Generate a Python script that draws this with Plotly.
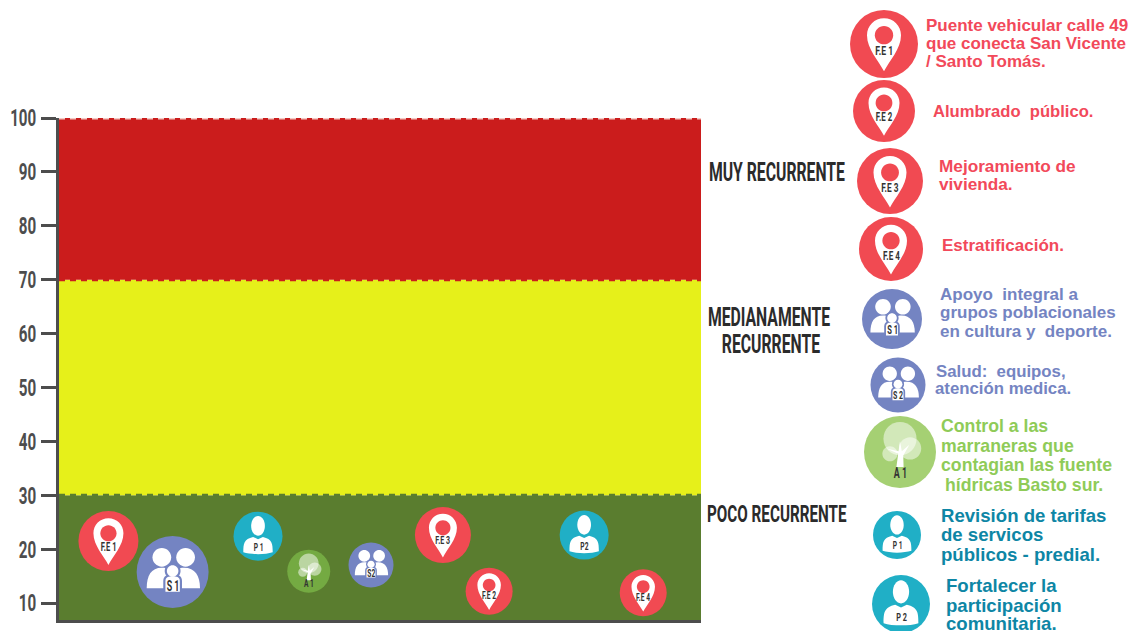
import plotly.graph_objects as go

W, H = 1130, 631
NARROW = "Roboto"
SANS = "Liberation Sans"

# ---------- data ----------
zone_names = ["POCO", "MEDIANAMENTE", "MUY"]
zone_low = [6.85, 30, 70]
zone_high = [30, 70, 100]
zone_colors = ["#5a7d2f", "#e6f01a", "#cb1c1c"]
zone_edge = [100, 70, 30]
zone_edge_colors = ["#f3c9c4", "#cb1c1c", "#5a7d2f"]

tick_values = [10, 20, 30, 40, 50, 60, 70, 80, 90, 100]

bubble_labels = ["F.E 1", "S 1", "P 1", "A 1", "S2", "F.E 3", "F.E 2", "P2", "F.E 4"]
bubble_kinds = ["pin", "people", "person", "tree", "people", "pin", "pin", "person", "pin"]
bubble_x = [7.7, 17.7, 31.0, 38.9, 48.6, 59.8, 67.0, 81.8, 91.0]
bubble_y = [21.5, 15.75, 22.4, 15.9, 17.05, 22.6, 12.2, 22.6, 11.9]
bubble_d = [60, 72, 49, 43, 45, 56, 47, 49, 47]

legend_labels = ["F.E 1", "F.E 2", "F.E 3", "F.E 4", "S 1", "S 2", "A 1", "P 1", "P 2"]
legend_kinds = ["pin", "pin", "pin", "pin", "people", "people", "tree", "person", "person"]
legend_x = [884, 884, 890, 891, 892, 898, 900, 897, 901]
legend_y = [44, 111, 181, 249, 319, 385, 452, 535, 604]
legend_d = [68, 62, 66, 64, 60, 55, 72, 48, 58]

legend_lines = [
    ["Puente vehicular calle 49", "que conecta San Vicente", "/ Santo Tomás."],
    ["Alumbrado  público."],
    ["Mejoramiento de", "vivienda."],
    ["Estratificación."],
    ["Apoyo  integral a", "grupos poblacionales", "en cultura y  deporte."],
    ["Salud:  equipos,", "atención medica."],
    ["Control a las", "marraneras que", "contagian las fuente", "hídricas Basto sur."],
    ["Revisión de tarifas", "de servicos", "públicos - predial."],
    ["Fortalecer la", "participación", "comunitaria."],
]
legend_line_x = [[926, 926, 926], [933], [939, 939], [942], [940, 940, 940], [936, 935],
                 [941, 941, 941, 945], [941, 941, 941], [946, 946, 946]]
legend_line_y = [[25, 43, 61], [111], [166, 184], [245], [294, 312, 331], [371, 388],
                 [426, 446, 465, 485], [515, 534, 554], [585, 605, 623]]
legend_line_size = [17, 16.6, 17.2, 17, 17, 16.8, 17.7, 18.6, 18.6]

zone_labels = ["MUY RECURRENTE", "MEDIANAMENTE", "RECURRENTE", "POCO RECURRENTE"]
zone_label_x = [777, 769, 771, 777]
zone_label_y = [172, 317, 344, 514]
zone_label_size = [25, 25, 25, 24.2]

# ---------- styles ----------
fill = {"pin": "#f14a52", "people": "#7484c2", "person": "#20afc6", "tree": "#74aa42"}
legend_fill = {"pin": "#f14a52", "people": "#7484c2", "person": "#20afc6", "tree": "#a5d073"}
text_color = {"pin": "#f2495a", "people": "#7484c2", "person": "#0e86a5", "tree": "#8fcb58"}
label_drop = {"pin": -0.19, "people": -0.38, "person": -0.45, "tree": -0.58}
AXIS = "#4d4d4d"


def blob(cx, cy, rx, ry=None):
    ry = rx if ry is None else ry
    k = 0.5523
    return (f"M{cx-rx:.2f},{cy:.2f} C{cx-rx:.2f},{cy+k*ry:.2f} {cx-k*rx:.2f},{cy+ry:.2f} {cx:.2f},{cy+ry:.2f} "
            f"C{cx+k*rx:.2f},{cy+ry:.2f} {cx+rx:.2f},{cy+k*ry:.2f} {cx+rx:.2f},{cy:.2f} "
            f"C{cx+rx:.2f},{cy-k*ry:.2f} {cx+k*rx:.2f},{cy-ry:.2f} {cx:.2f},{cy-ry:.2f} "
            f"C{cx-k*rx:.2f},{cy-ry:.2f} {cx-rx:.2f},{cy-k*ry:.2f} {cx-rx:.2f},{cy:.2f} Z")


def pts(r, cmds):
    return " ".join(c[0] + " ".join(f"{x*r:.2f},{y*r:.2f}" for x, y in c[1]) if c[1] else "Z" for c in cmds)


def icon_parts(kind, r, bg):
    if kind == "pin":
        tear = pts(r, [("M", [(0, -.8)]), ("C", [(-.15, -.5), (-.5, -.15), (-.5, .26)]),
                       ("C", [(-.5, .54), (-.28, .76), (0, .76)]), ("C", [(.28, .76), (.5, .54), (.5, .26)]),
                       ("C", [(.5, -.15), (.15, -.5), (0, -.8)]), ("Z", [])])
        return [(tear, "#ffffff", 1), (blob(0, .26 * r, .27 * r), bg, 1)]
    if kind == "people":
        left = pts(r, [("M", [(-.72, -.45)]), ("C", [(-.72, -.1), (-.6, .12), (-.3, .12)]),
                       ("C", [(-.12, .12), (-.05, .05), (0, -.05)]), ("L", [(0, -.45)]), ("Z", [])])
        right = pts(r, [("M", [(.76, -.45)]), ("C", [(.76, -.1), (.62, .12), (.32, .12)]),
                        ("C", [(.14, .12), (.05, .05), (0, -.05)]), ("L", [(0, -.45)]), ("Z", [])])
        child = pts(r, [("M", [(-.26, -.58)]), ("L", [(-.26, -.25)]), ("C", [(-.26, -.1), (-.15, -.07), (0, -.07)]),
                        ("C", [(.15, -.07), (.26, -.1), (.26, -.25)]), ("L", [(.26, -.58)]), ("Z", [])])
        return [(blob(-.3 * r, .41 * r, .26 * r), "#ffffff", 1), (blob(.36 * r, .41 * r, .26 * r), "#ffffff", 1),
                (left, "#ffffff", 1), (right, "#ffffff", 1), (child, bg, 1),
                (blob(0, .03 * r, .22 * r), bg, 1), (blob(0, .03 * r, .16 * r), "#ffffff", 1),
                (pts(r, [("M", [(-.2, -.55)]), ("L", [(-.2, -.25)]), ("C", [(-.2, -.14), (-.1, -.12), (0, -.12)]),
                         ("C", [(.1, -.12), (.2, -.14), (.2, -.25)]), ("L", [(.2, -.55)]), ("Z", [])]), "#ffffff", 1)]
    if kind == "person":
        body = pts(r, [("M", [(-.6, -.66)]), ("C", [(-.6, -.3), (-.58, -.12), (-.2, -.03)]),
                       ("L", [(0, -.12)]), ("L", [(.2, -.03)]), ("C", [(.58, -.12), (.6, -.3), (.6, -.66)]),
                       ("C", [(.3, -.76), (-.3, -.76), (-.6, -.66)]), ("Z", [])])
        return [(blob(0, .42 * r, .28 * r, .4 * r), "#ffffff", 1), (body, "#ffffff", 1)]
    trunk = pts(r, [("M", [(-.1, -.42)]), ("L", [(-.05, -.05)]), ("L", [(-.38, .1)]), ("L", [(-.04, .02)]),
                    ("L", [(0, .3)]), ("L", [(.05, .02)]), ("L", [(.26, .2)]), ("L", [(.09, -.1)]),
                    ("L", [(.1, -.42)]), ("Z", [])])
    return [(blob(0, .37 * r, .46 * r), "#ffffff", .5), (blob(.28 * r, .1 * r, .31 * r), "#ffffff", .5),
            (blob(-.28 * r, -.05 * r, .21 * r), "#ffffff", .5), (trunk, "#ffffff", 1)]


shapes, annotations = [], []

# zones
for lo, hi, col in zip(zone_low, zone_high, zone_colors):
    shapes.append(dict(type="rect", xref="x", yref="y", x0=0, x1=100, y0=lo, y1=hi,
                       fillcolor=col, line_width=0, layer="below"))
for yv, col in zip(zone_edge, zone_edge_colors):
    shapes.append(dict(type="line", xref="x", yref="y", x0=0, x1=100, y0=yv, y1=yv,
                       line=dict(color=col, width=3, dash="6px,5px"), layer="below"))

fig = go.Figure()

# chart bubbles
fig.add_trace(go.Scatter(x=bubble_x, y=bubble_y, mode="markers", cliponaxis=False, showlegend=False,
                         text=bubble_labels, hoverinfo="text",
                         marker=dict(size=bubble_d, opacity=1, color=[fill[k] for k in bubble_kinds], line_width=0)))
# legend bubbles
fig.add_trace(go.Scatter(x=legend_x, y=[H - v for v in legend_y], xaxis="x2", yaxis="y2", mode="markers",
                         cliponaxis=False, showlegend=False, text=legend_labels, hoverinfo="text",
                         marker=dict(size=legend_d, opacity=1, color=[legend_fill[k] for k in legend_kinds], line_width=0)))


def add_icon(kind, x, y, d, label, bg, xr, yr):
    r = d / 2
    for path, col, op in icon_parts(kind, r, bg):
        shapes.append(dict(type="path", path=path, xref=xr, yref=yr, xsizemode="pixel", ysizemode="pixel",
                           xanchor=x, yanchor=y, fillcolor=col, opacity=op, line_width=0, layer="above"))
    annotations.append(dict(text=label, x=x, y=y, xref=xr, yref=yr, showarrow=False, xanchor="center",
                            yanchor="middle", yshift=label_drop[kind] * r,
                            font=dict(family=NARROW, weight="bold", size=max(10.5, min(14, d * 0.2)), color="#333333")))


for k, x, y, d, lab in zip(bubble_kinds, bubble_x, bubble_y, bubble_d, bubble_labels):
    add_icon(k, x, y, d, lab, fill[k], "x", "y")
for k, x, y, d, lab in zip(legend_kinds, legend_x, legend_y, legend_d, legend_labels):
    add_icon(k, x, H - y, d, lab, legend_fill[k], "x2", "y2")

# legend text
for kind, lines, xs, ys, size in zip(legend_kinds, legend_lines, legend_line_x, legend_line_y, legend_line_size):
    for line, px, py in zip(lines, xs, ys):
        annotations.append(dict(text=line, x=px, y=H - py, xref="x2", yref="y2", showarrow=False,
                                xanchor="left", yanchor="middle", xshift=-2,
                                font=dict(family=SANS, weight="bold", size=size, color=text_color[kind])))

# zone labels
for lab, px, py, size in zip(zone_labels, zone_label_x, zone_label_y, zone_label_size):
    annotations.append(dict(text=lab, x=px, y=H - py, xref="x2", yref="y2", showarrow=False,
                            xanchor="center", yanchor="middle",
                            font=dict(family=NARROW, weight="bold", size=size, color="#2b2b2b")))

fig.update_layout(
    width=W, height=H, margin=dict(l=0, r=0, t=0, b=0, pad=0, autoexpand=False),
    paper_bgcolor="#ffffff", plot_bgcolor="rgba(0,0,0,0)",
    showlegend=False, shapes=shapes, annotations=annotations,
    xaxis=dict(domain=[59 / W, 701 / W], range=[0, 100], showgrid=False, zeroline=False, showticklabels=False,
               ticks="", showline=True, linecolor=AXIS, linewidth=3, fixedrange=True, automargin=False),
    yaxis=dict(domain=[11 / H, 513 / H], range=[6.85, 100], tickvals=tick_values, ticks="outside", ticklen=15,
               tickwidth=3, tickcolor=AXIS, showgrid=False, zeroline=False, showline=True, linecolor=AXIS,
               linewidth=3, ticklabelstandoff=0, tickfont=dict(family=NARROW, weight="bold", size=24, color=AXIS),
               fixedrange=True, automargin=False),
    xaxis2=dict(domain=[700 / W, 1], range=[700, 1130], visible=False, fixedrange=True),
    yaxis2=dict(domain=[0, 1], range=[0, H], visible=False, fixedrange=True, anchor="x2"),
)

# pin the figure to the window corner and condense the poster-style labels
POST = """
document.body.style.margin = '0';
var g = document.querySelector('.plotly-graph-div');
g.style.position = 'fixed'; g.style.left = '0'; g.style.top = '0';
g.querySelectorAll('text').forEach(function (t) {
  if ((t.style.fontFamily || '').indexOf('Roboto') >= 0) {
    t.setAttribute('textLength', (t.getComputedTextLength() * 0.63).toFixed(1));
    t.setAttribute('lengthAdjust', 'spacingAndGlyphs');
  }
});
"""
fig.write_html("out.html", config={"displayModeBar": False}, post_script=POST)
